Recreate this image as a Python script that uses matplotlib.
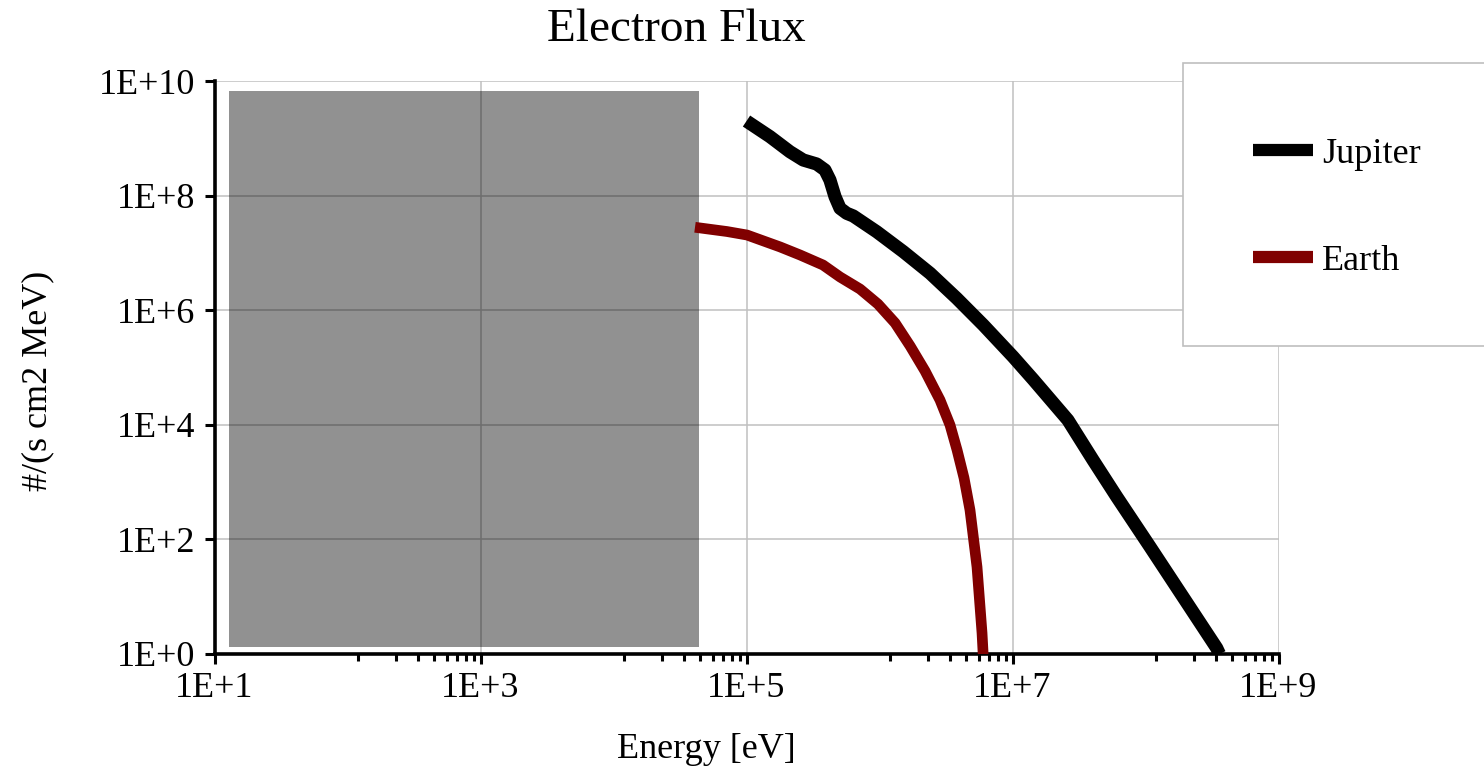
import matplotlib
matplotlib.use("Agg")
import matplotlib.pyplot as plt
from matplotlib.patches import Rectangle
from matplotlib.ticker import FixedLocator, FuncFormatter, NullFormatter
import numpy as np

# ---- data ----
jupiter_energy = [1.00e5, 1.50e5, 2.12e5, 2.67e5, 3.37e5, 3.89e5, 4.24e5, 4.63e5, 5.05e5,
                  5.67e5, 6.35e5, 9.53e5, 1.51e6, 2.40e6, 3.81e6, 6.03e6, 1.01e7, 1.43e7,
                  2.61e7, 4.03e7, 6.07e7, 1.08e8, 1.91e8, 3.43e8, 3.60e8]
jupiter_flux = [2.00e9, 1.07e9, 5.83e8, 4.18e8, 3.56e8, 2.80e8, 1.87e8, 9.57e7, 6.00e7,
                4.91e7, 4.41e7, 2.34e7, 1.05e7, 4.41e6, 1.61e6, 5.52e5, 1.54e5, 6.18e4,
                1.21e4, 2.43e3, 5.56e2, 7.46e1, 1.00e1, 1.27e0, 1.00e0]

earth_energy = [4.10e4, 7.14e4, 1.01e5, 1.79e5, 2.53e5, 3.76e5, 5.05e5, 7.14e5, 9.74e5,
                1.31e6, 1.70e6, 2.20e6, 2.85e6, 3.39e6, 3.83e6, 4.32e6, 4.79e6, 5.41e6,
                5.90e6, 6.05e6]
earth_flux = [2.80e7, 2.36e7, 2.05e7, 1.27e7, 9.19e6, 6.15e6, 3.80e6, 2.34e6, 1.28e6,
              5.98e5, 2.37e5, 8.69e4, 2.71e4, 9.92e3, 3.63e3, 1.18e3, 3.26e2, 3.30e1,
              2.33e0, 0.79e0]

shade_energy = [1.29e1, 4.37e4]
shade_flux = [1.32e0, 6.7e9]

x_major = [1e1, 1e3, 1e5, 1e7, 1e9]
y_major = [1e0, 1e2, 1e4, 1e6, 1e8, 1e10]

title = "Electron Flux"
xlabel = "Energy [eV]"
ylabel = "#/(s cm2 MeV)"
series_names = ["Jupiter", "Earth"]

# ---- figure ----
plt.rcParams['font.family'] = ['Liberation Serif', 'DejaVu Serif']
W, H = 1484, 774
fig = plt.figure(figsize=(W / 100, H / 100), dpi=100)
L, R, T, B = 214.5, 1278.5, 81, 654
ax = fig.add_axes([L / W, 1 - B / H, (R - L) / W, (B - T) / H])
ax.set_xscale('log')
ax.set_yscale('log')
ax.set_xlim(x_major[0], x_major[-1])
ax.set_ylim(y_major[0], y_major[-1])

# ticks and grid
ax.xaxis.set_major_locator(FixedLocator(x_major))
ax.yaxis.set_major_locator(FixedLocator(y_major))
minor = []
for lo, hi in zip(x_major[:-1], x_major[1:]):
    minor += [lo + j * (hi - lo) / 9 for j in range(1, 9)]
ax.xaxis.set_minor_locator(FixedLocator(minor))
ax.yaxis.set_minor_locator(FixedLocator([]))
fmt = FuncFormatter(lambda v, p: "1E+%d" % int(round(np.log10(v))))
ax.xaxis.set_major_formatter(fmt)
ax.yaxis.set_major_formatter(fmt)
ax.xaxis.set_minor_formatter(NullFormatter())
ax.grid(True, which='major', color='#c0c0c0', linewidth=1.1)

for s in ['top', 'right']:
    ax.spines[s].set_visible(False)
for s in ['left', 'bottom']:
    ax.spines[s].set_linewidth(2.6)
    ax.spines[s].set_color('black')

ax.tick_params(axis='both', which='major', direction='out', length=7, width=2.2,
               labelsize=26, color='black')
ax.tick_params(axis='x', which='major', pad=6)
ax.tick_params(axis='y', which='major', pad=7)
ax.tick_params(axis='x', which='minor', direction='out', length=5, width=2.2, color='black')

# shaded region
ax.add_patch(Rectangle((shade_energy[0], shade_flux[0]),
                       shade_energy[1] - shade_energy[0], shade_flux[1] - shade_flux[0],
                       facecolor='black', alpha=0.43, edgecolor='none', zorder=1.6))

lj, = ax.plot(jupiter_energy, jupiter_flux, color='black', linewidth=9.5,
              solid_capstyle='butt', solid_joinstyle='round', zorder=3, label=series_names[0])
le, = ax.plot(earth_energy, earth_flux, color='#800000', linewidth=7.7,
              solid_capstyle='butt', solid_joinstyle='round', zorder=3, label=series_names[1])

# labels
fig.text(676.5 / W, 1 - 30 / H, title, fontsize=34, ha='center', va='center')
ax.set_xlabel(xlabel, fontsize=26, va='center')
ax.xaxis.set_label_coords((706.5 - L) / (R - L), (B - 750) / (B - T))
ax.set_ylabel(ylabel, fontsize=26, va='center')
ax.yaxis.set_label_coords((38 - L) / (R - L), (B - 381) / (B - T))

# legend box
fig.patches.append(Rectangle((1183 / W, 1 - 346 / H), 0.3, (346 - 63) / H,
                             transform=fig.transFigure, facecolor='white',
                             edgecolor='#bfbfbf', linewidth=1.2, zorder=5))
leg = fig.legend(handles=[lj, le], loc='center left', bbox_to_anchor=(1253 / W, 1 - 207.5 / H),
                 frameon=False, fontsize=26, handlelength=1.66, handletextpad=0.25,
                 labelspacing=2.04, borderpad=0, borderaxespad=0)
leg.set_zorder(6)
for h in leg.legend_handles:
    h.set_linewidth(8.8)

fig.savefig("out.png", dpi=100)
